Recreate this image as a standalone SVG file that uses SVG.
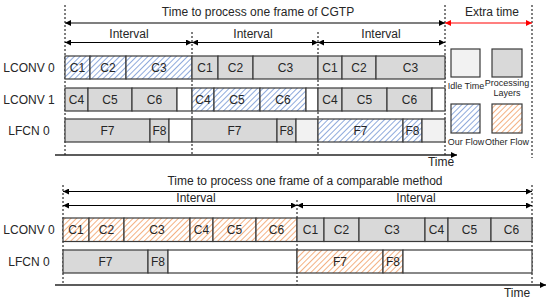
<svg xmlns="http://www.w3.org/2000/svg" width="550" height="303" viewBox="0 0 550 303">
<style>
text{font-family:"Liberation Sans",Arial,sans-serif;fill:#262626}
.t{font-size:12px;text-anchor:middle}
.s{font-size:9px;text-anchor:middle}
.c{stroke:#3a3a3a;stroke-width:1.2}
.p{fill:#d9d9d9}
.i{fill:#f2f2f2}
.w{fill:#ffffff}
.b{fill:url(#hb)}
.o{fill:url(#ho)}
.d{stroke:#000;stroke-width:1;stroke-dasharray:2,2;fill:none}
.a{stroke:#000;stroke-width:1.2;fill:none;marker-start:url(#ah);marker-end:url(#ah)}
.r{stroke:#ff0000;stroke-width:1.2;fill:none;marker-start:url(#ar);marker-end:url(#ar)}
.ax{stroke:#262626;stroke-width:1.6;fill:none;marker-end:url(#ah)}
</style>
<defs>
<pattern id="hb" patternUnits="userSpaceOnUse" width="4" height="4" patternTransform="rotate(45)"><rect width="4" height="4" fill="#fff"/><line x1="0.5" y1="0" x2="0.5" y2="4" stroke="#8faadc" stroke-width="1"/></pattern>
<pattern id="ho" patternUnits="userSpaceOnUse" width="4" height="4" patternTransform="rotate(45)"><rect width="4" height="4" fill="#fff"/><line x1="0.5" y1="0" x2="0.5" y2="4" stroke="#f4b183" stroke-width="1"/></pattern>
<marker id="ah" viewBox="0 0 10 10" refX="10" refY="5" markerWidth="6" markerHeight="6" markerUnits="userSpaceOnUse" orient="auto-start-reverse"><path d="M0,0 L10,5 L0,10 z" fill="#000"/></marker>
<marker id="ar" viewBox="0 0 10 10" refX="10" refY="5" markerWidth="6" markerHeight="6" markerUnits="userSpaceOnUse" orient="auto-start-reverse"><path d="M0,0 L10,5 L0,10 z" fill="#ff0000"/></marker>
</defs>
<rect width="550" height="303" fill="#fff"/>

<g id="connectors">
<line class="d" x1="65" y1="5" x2="65" y2="155"/>
<line class="d" x1="192" y1="32" x2="192" y2="155"/>
<line class="d" x1="318" y1="32" x2="318" y2="155"/>
<line class="d" x1="445" y1="5" x2="445" y2="155"/>
<line class="d" x1="532" y1="5" x2="532" y2="158"/>
<line class="a" x1="65" y1="23" x2="445" y2="23"/>
<line class="r" x1="445" y1="23" x2="532" y2="23"/>
<line class="a" x1="65" y1="42.5" x2="192" y2="42.5"/>
<line class="a" x1="192" y1="42.5" x2="318" y2="42.5"/>
<line class="a" x1="318" y1="42.5" x2="445" y2="42.5"/>
<line class="ax" x1="55" y1="155" x2="457" y2="155"/>
<line class="d" x1="63" y1="185" x2="63" y2="285"/>
<line class="d" x1="297" y1="200" x2="297" y2="285"/>
<line class="d" x1="532" y1="185" x2="532" y2="285"/>
<line class="a" x1="63" y1="191.5" x2="532" y2="191.5"/>
<line class="a" x1="63" y1="205.5" x2="297" y2="205.5"/>
<line class="a" x1="297" y1="205.5" x2="532" y2="205.5"/>
<line class="ax" x1="55" y1="285" x2="546" y2="285"/>
</g>

<g id="labels">
<text class="t" x="258" y="16">Time to process one frame of CGTP</text>
<text class="t" x="492" y="16">Extra time</text>
<text class="t" x="129" y="38">Interval</text>
<text class="t" x="253" y="38">Interval</text>
<text class="t" x="381" y="38">Interval</text>
<text class="t" x="441" y="166">Time</text>
<text class="t" x="305" y="185">Time to process one frame of a comparable method</text>
<text class="t" x="196" y="202">Interval</text>
<text class="t" x="416" y="202">Interval</text>
<text class="t" x="517" y="297">Time</text>
</g>

<g id="row-top-lconv0">
<text class="t" x="29" y="72">LCONV 0</text>
<rect class="c b" x="65" y="56" width="25" height="23"/><text class="t" x="77.5" y="72">C1</text>
<rect class="c b" x="90" y="56" width="36" height="23"/><text class="t" x="108" y="72">C2</text>
<rect class="c b" x="126" y="56" width="66" height="23"/><text class="t" x="159" y="72">C3</text>
<rect class="c p" x="192" y="56" width="26" height="23"/><text class="t" x="205" y="72">C1</text>
<rect class="c p" x="218" y="56" width="35" height="23"/><text class="t" x="235.5" y="72">C2</text>
<rect class="c p" x="253" y="56" width="65" height="23"/><text class="t" x="285.5" y="72">C3</text>
<rect class="c p" x="318" y="56" width="24" height="23"/><text class="t" x="330" y="72">C1</text>
<rect class="c p" x="342" y="56" width="34" height="23"/><text class="t" x="359" y="72">C2</text>
<rect class="c p" x="376" y="56" width="69" height="23"/><text class="t" x="410.5" y="72">C3</text>
</g>

<g id="row-top-lconv1">
<text class="t" x="29" y="104">LCONV 1</text>
<rect class="c p" x="65" y="88" width="23" height="23"/><text class="t" x="76.5" y="104">C4</text>
<rect class="c p" x="88" y="88" width="44" height="23"/><text class="t" x="110" y="104">C5</text>
<rect class="c p" x="132" y="88" width="45" height="23"/><text class="t" x="154.5" y="104">C6</text>
<rect class="c w" x="177" y="88" width="15" height="23"/>
<rect class="c b" x="192" y="88" width="22" height="23"/><text class="t" x="203" y="104">C4</text>
<rect class="c b" x="214" y="88" width="46" height="23"/><text class="t" x="237" y="104">C5</text>
<rect class="c b" x="260" y="88" width="46" height="23"/><text class="t" x="283" y="104">C6</text>
<rect class="c w" x="306" y="88" width="12" height="23"/>
<rect class="c p" x="318" y="88" width="24" height="23"/><text class="t" x="330" y="104">C4</text>
<rect class="c p" x="342" y="88" width="45" height="23"/><text class="t" x="364.5" y="104">C5</text>
<rect class="c p" x="387" y="88" width="45" height="23"/><text class="t" x="409.5" y="104">C6</text>
<rect class="c w" x="432" y="88" width="13" height="23"/>
</g>

<g id="row-top-lfcn0">
<text class="t" x="29" y="135">LFCN 0</text>
<rect class="c p" x="65" y="119" width="85" height="23"/><text class="t" x="107.5" y="135">F7</text>
<rect class="c p" x="150" y="119" width="19" height="23"/><text class="t" x="159.5" y="135">F8</text>
<rect class="c w" x="169" y="119" width="23" height="23"/>
<rect class="c p" x="192" y="119" width="85" height="23"/><text class="t" x="234.5" y="135">F7</text>
<rect class="c p" x="277" y="119" width="19" height="23"/><text class="t" x="286.5" y="135">F8</text>
<rect class="c i" x="296" y="119" width="22" height="23"/>
<rect class="c b" x="318" y="119" width="85" height="23"/><text class="t" x="360.5" y="135">F7</text>
<rect class="c b" x="403" y="119" width="19" height="23"/><text class="t" x="412.5" y="135">F8</text>
<rect class="c i" x="422" y="119" width="23" height="23"/>
</g>

<g id="legend">
<rect class="c i" x="451" y="49" width="29" height="28"/>
<rect class="c p" x="492" y="49" width="30" height="28"/>
<text class="s" x="466" y="89">Idle Time</text>
<text class="s" x="507" y="86">Processing</text>
<text class="s" x="507" y="96">Layers</text>
<rect class="c b" x="451" y="104" width="29" height="29"/>
<rect class="c o" x="492" y="104" width="30" height="29"/>
<text class="s" x="466" y="145">Our Flow</text>
<text class="s" x="507" y="145">Other Flow</text>
</g>

<g id="row-bot-lconv0">
<text class="t" x="29" y="234">LCONV 0</text>
<rect class="c o" x="63" y="218" width="26" height="23.5"/><text class="t" x="76" y="234">C1</text>
<rect class="c o" x="89" y="218" width="35" height="23.5"/><text class="t" x="106.5" y="234">C2</text>
<rect class="c o" x="124" y="218" width="66" height="23.5"/><text class="t" x="157" y="234">C3</text>
<rect class="c o" x="190" y="218" width="23" height="23.5"/><text class="t" x="201.5" y="234">C4</text>
<rect class="c o" x="213" y="218" width="43" height="23.5"/><text class="t" x="234.5" y="234">C5</text>
<rect class="c o" x="256" y="218" width="41" height="23.5"/><text class="t" x="276.5" y="234">C6</text>
<rect class="c p" x="297" y="218" width="27" height="23.5"/><text class="t" x="310.5" y="234">C1</text>
<rect class="c p" x="324" y="218" width="35" height="23.5"/><text class="t" x="341.5" y="234">C2</text>
<rect class="c p" x="359" y="218" width="66" height="23.5"/><text class="t" x="392" y="234">C3</text>
<rect class="c p" x="425" y="218" width="23" height="23.5"/><text class="t" x="436.5" y="234">C4</text>
<rect class="c p" x="448" y="218" width="43" height="23.5"/><text class="t" x="469.5" y="234">C5</text>
<rect class="c p" x="491" y="218" width="41" height="23.5"/><text class="t" x="511.5" y="234">C6</text>
</g>

<g id="row-bot-lfcn0">
<text class="t" x="29" y="266">LFCN 0</text>
<rect class="c p" x="63" y="250" width="85" height="23"/><text class="t" x="105.5" y="266">F7</text>
<rect class="c p" x="148" y="250" width="20" height="23"/><text class="t" x="158" y="266">F8</text>
<rect class="c w" x="168" y="250" width="129" height="23"/>
<rect class="c o" x="297" y="250" width="86" height="23"/><text class="t" x="340" y="266">F7</text>
<rect class="c o" x="383" y="250" width="20" height="23"/><text class="t" x="393" y="266">F8</text>
<rect class="c w" x="403" y="250" width="129" height="23"/>
</g>
</svg>
